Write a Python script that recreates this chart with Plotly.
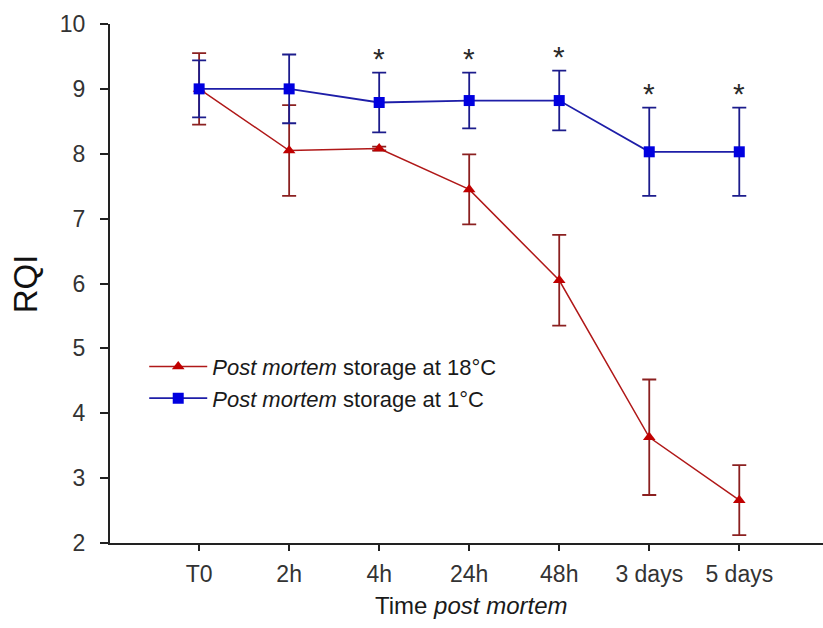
import plotly.graph_objects as go

categories = ["T0", "2h", "4h", "24h", "48h", "3 days", "5 days"]
rqi_18 = [9.0, 8.05, 8.08, 7.45, 6.05, 3.63, 2.66]
err_18 = [0.55, 0.70, 0.03, 0.54, 0.70, 0.89, 0.54]
rqi_1 = [9.0, 9.0, 8.79, 8.82, 8.82, 8.03, 8.03]
err_1 = [0.44, 0.53, 0.46, 0.43, 0.46, 0.68, 0.68]
significant = ["4h", "24h", "48h", "3 days", "5 days"]

RED_LINE = "#B01818"
RED_MARK = "#C00000"
RED_ERR = "#8B2020"
BLUE_LINE = "#1E1EA8"
BLUE_MARK = "#0000E0"
BLUE_ERR = "#1C1C8C"
FONT = "Liberation Sans, Arial"

x_idx = list(range(len(categories)))

fig = go.Figure()
fig.add_trace(go.Scatter(
    x=x_idx, y=rqi_18, mode="lines+markers",
    name="<i>Post mortem</i> storage at 18°C",
    line=dict(color=RED_LINE, width=1.5),
    marker=dict(symbol="triangle-up", size=11, color=RED_MARK),
    error_y=dict(type="data", array=err_18, color=RED_ERR, thickness=1.8, width=7),
))
fig.add_trace(go.Scatter(
    x=x_idx, y=rqi_1, mode="lines+markers",
    name="<i>Post mortem</i> storage at 1°C",
    line=dict(color=BLUE_LINE, width=1.8),
    marker=dict(symbol="square", size=11, color=BLUE_MARK),
    error_y=dict(type="data", array=err_1, color=BLUE_ERR, thickness=1.8, width=7),
))

annotations = []
for cat in significant:
    i = categories.index(cat)
    annotations.append(dict(
        x=i, y=rqi_1[i] + err_1[i], xref="x", yref="y",
        text="*", showarrow=False, yanchor="bottom", yshift=-4,
        font=dict(size=30, color="#2a2a2a", family=FONT),
    ))

annotations.append(dict(
    x=-0.118, y=0.5, xref="paper", yref="paper", text="RQI", textangle=-90,
    showarrow=False, xanchor="center", yanchor="middle",
    font=dict(size=33, color="#111111", family=FONT),
))
annotations.append(dict(
    x=0.506, y=-0.121, xref="paper", yref="paper", text="Time <i>post mortem</i>",
    showarrow=False, xanchor="center", yanchor="middle",
    font=dict(size=24, color="#1a1a1a", family=FONT),
))

fig.update_layout(
    width=823, height=628,
    margin=dict(l=110, r=0, t=24, b=85),
    paper_bgcolor="white", plot_bgcolor="white",
    showlegend=True,
    legend=dict(
        x=0.048, y=0.38, xanchor="left", yanchor="top",
        bgcolor="rgba(0,0,0,0)",
        font=dict(size=22, color="#1a1a1a", family=FONT),
        tracegroupgap=0, itemwidth=58,
    ),
    annotations=annotations,
    font=dict(family=FONT, color="#333333"),
)
fig.update_xaxes(
    range=[-0.99, 6.93], tickmode="array", tickvals=x_idx, ticktext=categories,
    showgrid=False, zeroline=False, showline=True, linecolor="#222222", linewidth=2,
    ticks="outside", ticklen=6, tickwidth=2, tickcolor="#222222",
    tickfont=dict(size=23, color="#333333", family=FONT),
    ticklabelstandoff=3,
)
fig.update_yaxes(
    range=[2, 10], tickvals=[2, 3, 4, 5, 6, 7, 8, 9, 10],
    showgrid=False, zeroline=False, showline=True, linecolor="#222222", linewidth=2,
    ticks="outside", ticklen=8, tickwidth=2, tickcolor="#222222",
    tickfont=dict(size=23, color="#333333", family=FONT),
    ticklabelstandoff=10,
)

fig.write_html("out.html")
